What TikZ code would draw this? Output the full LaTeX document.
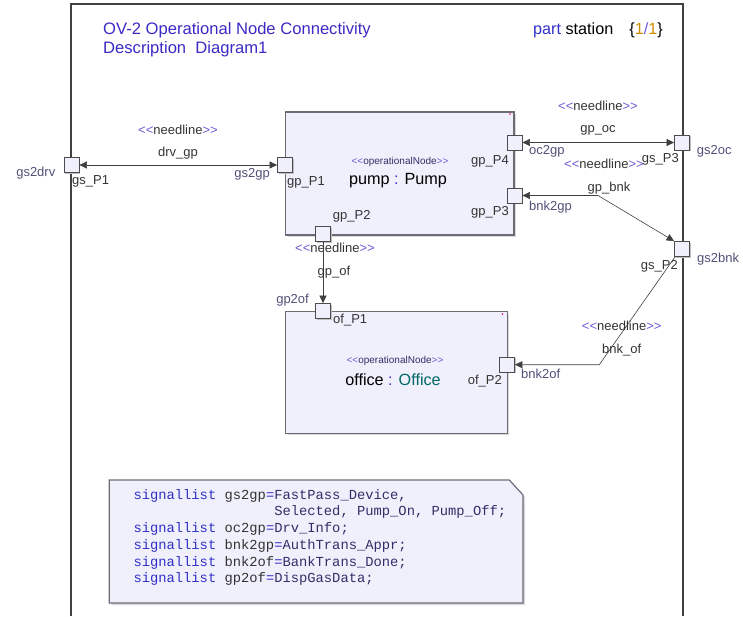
\documentclass[tikz,border=0pt]{standalone}
\usepackage{fontspec}
\setmainfont{Liberation Sans}[Ligatures=TeXOff]
\setmonofont{Liberation Mono}
\usetikzlibrary{arrows.meta,shadows}

\definecolor{titleblue}{HTML}{3A2AC4}
\definecolor{stereoblue}{HTML}{6B5BD6}
\definecolor{portname}{HTML}{505078}
\definecolor{boxfill}{HTML}{F0F0FC}
\definecolor{boxline}{HTML}{6C6C74}
\definecolor{typeteal}{HTML}{006666}
\definecolor{pageorange}{HTML}{D08A00}
\definecolor{kwblue}{HTML}{3030C8}
\definecolor{valnavy}{HTML}{303068}

\newcommand{\needtag}{\textcolor{stereoblue}{<\kern0pt<}needline\textcolor{stereoblue}{>\kern0pt>}}
\newcommand{\optag}{\textcolor{stereoblue}{<\kern0pt<}\textcolor{valnavy}{operationalNode}\textcolor{stereoblue}{>\kern0pt>}}
\newcommand{\kw}[1]{\textcolor{kwblue}{#1}}

\begin{document}
\begin{tikzpicture}[x=1pt,y=-1pt,
    opbox/.style={draw=boxline, line width=1.2pt, fill=boxfill, inner sep=0pt,
      drop shadow={shadow xshift=2pt, shadow yshift=-2pt, fill=black!15, opacity=1}},
    port/.style={draw=black!70, line width=0.8pt, fill=boxfill, minimum size=15pt, inner sep=0pt,
      drop shadow={shadow xshift=1.2pt, shadow yshift=-1.2pt, fill=black!25, opacity=1}},
    lbl/.style={inner sep=0pt, text=black!80, font=\fontsize{13}{13}\selectfont},
    pname/.style={lbl, text=portname},
    both/.style={draw=black!75, line width=0.6pt, {Triangle[length=7.5pt,width=7pt]}-{Triangle[length=7.5pt,width=7pt]}},
    single/.style={draw=black!75, line width=0.6pt, -{Triangle[length=7.5pt,width=7pt]}}]
\useasboundingbox (0,0) rectangle (743,616);

\draw[black!75, line width=1.2pt] (71,616) -- (71,4) -- (683,4) -- (683,616);

\node[anchor=west, inner sep=0pt, text=titleblue, font=\fontsize{16.6}{16.6}\selectfont] (title1) at (103,30) {OV-2 Operational Node Connectivity};
\node[anchor=west, inner sep=0pt, text=titleblue, font=\fontsize{16.6}{16.6}\selectfont] (title2) at (103,49) {Description\ \ Diagram1};
\node[anchor=east, inner sep=0pt, font=\fontsize{16.2}{16.2}\selectfont] (page) at (663,30)
  {\textcolor{kwblue}{part} station\quad\{\textcolor{pageorange}{1}\textcolor{stereoblue}{/}\textcolor{pageorange}{1}\}};

\node[opbox, minimum width=228.5pt, minimum height=123pt] (pump) at (399.75,173.5) {};
\node[opbox, minimum width=221.8pt, minimum height=121.6pt] (office) at (396.4,372.5) {};
\fill[magenta] (510,114) circle (0.9pt);
\fill[magenta] (502.5,314) circle (0.9pt);

\node[inner sep=0pt, font=\fontsize{10}{10}\selectfont] (pumpst) at (400,162) {\optag};
\node[inner sep=0pt, font=\fontsize{16.2}{16.2}\selectfont] (pumpnm) at (398,181) {pump \textcolor{kwblue}{:} Pump};
\node[inner sep=0pt, font=\fontsize{10}{10}\selectfont] (officest) at (395,361) {\optag};
\node[inner sep=0pt, font=\fontsize{16.2}{16.2}\selectfont] (officenm) at (393,380) {office \textcolor{kwblue}{:} \textcolor{typeteal}{Office}};

\node[port] (gsP1) at (71.5,165) {};
\node[port] (gpP1) at (285,165) {};
\node[port] (gpP4) at (514.5,142.5) {};
\node[port] (gpP3) at (514.5,195.5) {};
\node[port] (gpP2) at (323,234) {};
\node[port] (ofP1) at (323,311) {};
\node[port] (ofP2) at (507,364.7) {};
\node[port] (gsP3) at (682,142.5) {};
\node[port] (gsP2) at (682,249) {};

\node[pname] (gsdrv) at (35.8,172.7) {gs2drv};
\node[lbl, anchor=west] (gsP1l) at (72,181.7) {gs\_P1};
\node[pname, anchor=east] (gsgp) at (270,174) {gs2gp};
\node[lbl, anchor=west] (gpP1l) at (287,182.3) {gp\_P1};
\node[lbl, anchor=east] (gpP4l) at (509,161) {gp\_P4};
\node[lbl, anchor=east] (gpP3l) at (509,212.7) {gp\_P3};
\node[lbl, anchor=west] (gpP2l) at (332.7,216) {gp\_P2};
\node[pname, anchor=west] (ocgp) at (529,151.7) {oc2gp};
\node[lbl, anchor=east] (gsP3l) at (679,159) {gs\_P3};
\node[pname, anchor=west] (gsoc) at (696.7,151.7) {gs2oc};
\node[pname, anchor=west] (bnkgp) at (529,206.7) {bnk2gp};
\node[pname, anchor=west] (gsbnk) at (697,259) {gs2bnk};
\node[lbl, anchor=east] (gsP2l) at (678,266.7) {gs\_P2};
\node[pname, anchor=east] (gpof) at (309,300) {gp2of};
\node[lbl, anchor=west] (ofP1l) at (333,320) {of\_P1};
\node[lbl, anchor=east] (ofP2l) at (502,380.7) {of\_P2};
\node[pname, anchor=west] (bnkof) at (521,374) {bnk2of};

\coordinate (bnkbend) at (598,195.5);
\coordinate (ofbend) at (599.3,364.7);
\draw[both] (gsP1) -- (gpP1);
\draw[both] (gpP4) -- (gsP3);
\draw[both] (gpP3.east) -- (bnkbend) -- (gsP2.north west);
\draw[single] (gpP2) -- (ofP1);
\draw[single] ([xshift=-7pt]gsP2.south) -- (ofbend) -- (ofP2.east);

\node[lbl] (st1) at (178,130) {\needtag};
\node[lbl] (cn1) at (178,153) {drv\_gp};
\node[lbl] (st2) at (598,105.7) {\needtag};
\node[lbl] (cn2) at (598,130) {gp\_oc};
\node[lbl] (st3) at (604,164) {\needtag};
\node[lbl] (cn3) at (609,187.7) {gp\_bnk};
\node[lbl] (st4) at (335,248.3) {\needtag};
\node[lbl] (cn4) at (334,271.7) {gp\_of};
\node[lbl] (st5) at (621.7,326) {\needtag};
\node[lbl] (cn5) at (621.7,350) {bnk\_of};

\filldraw[draw=boxline, line width=1.2pt, fill=boxfill,
  drop shadow={shadow xshift=2pt, shadow yshift=-2pt, fill=black!15, opacity=1}]
  (109.3,480) -- (509.3,480) -- (523,495) -- (523,603) -- (109.3,603) -- cycle;
\node[anchor=north west, align=left, inner sep=0pt, text=black!80,
  font=\ttfamily\fontsize{13.8}{16.7}\selectfont] (signals) at (133.3,489)
  {\kw{signallist} gs2gp\kw{=}\textcolor{valnavy}{FastPass\_Device,}\\
   \phantom{signallist gs2gp=}\textcolor{valnavy}{Selected, Pump\_On, Pump\_Off;}\\
   \kw{signallist} oc2gp\kw{=}\textcolor{valnavy}{Drv\_Info;}\\
   \kw{signallist} bnk2gp\kw{=}\textcolor{valnavy}{AuthTrans\_Appr;}\\
   \kw{signallist} bnk2of\kw{=}\textcolor{valnavy}{BankTrans\_Done;}\\
   \kw{signallist} gp2of\kw{=}\textcolor{valnavy}{DispGasData;}};
\end{tikzpicture}
\end{document}
